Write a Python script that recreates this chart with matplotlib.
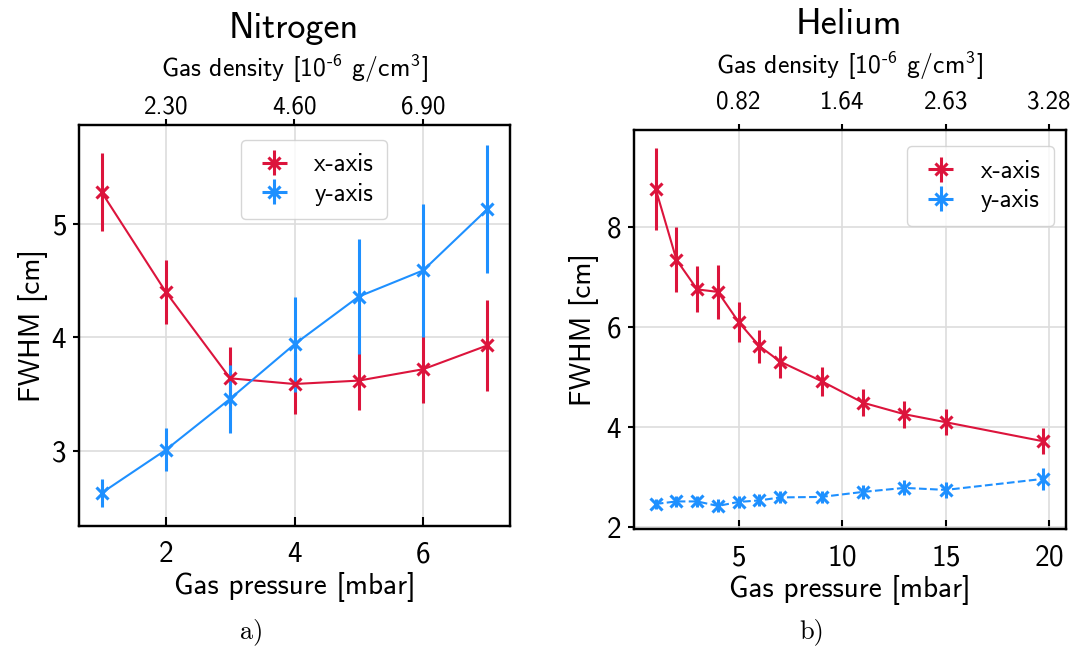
import matplotlib
matplotlib.use('Agg')
import matplotlib.pyplot as plt

plt.rcParams['font.family'] = 'cmss10'
plt.rcParams['mathtext.fontset'] = 'custom'
plt.rcParams['mathtext.rm'] = 'cmss10'
plt.rcParams['mathtext.default'] = 'regular'
plt.rcParams['axes.formatter.use_mathtext'] = True
plt.rcParams['axes.unicode_minus'] = False

# nitrogen: pressure [mbar], FWHM [cm] along x and y
n2_p = [1, 2, 3, 4, 5, 6, 7]
n2_x = [5.28, 4.40, 3.64, 3.59, 3.62, 3.72, 3.93]
n2_x_err = [0.34, 0.28, 0.28, 0.26, 0.26, 0.30, 0.40]
n2_y = [2.63, 3.01, 3.46, 3.94, 4.36, 4.59, 5.13]
n2_y_err = [0.125, 0.19, 0.30, 0.42, 0.505, 0.585, 0.565]
n2_dens_ticks = [2, 4, 6]
n2_dens_labels = ['2.30', '4.60', '6.90']

# helium
he_p = [1, 2, 3, 4, 5, 6, 7, 9, 11, 13, 15, 19.7]
he_x = [8.75, 7.34, 6.75, 6.70, 6.10, 5.62, 5.31, 4.92, 4.49, 4.26, 4.10, 3.72]
he_x_err = [0.82, 0.645, 0.46, 0.54, 0.40, 0.33, 0.32, 0.29, 0.27, 0.27, 0.26, 0.26]
he_y = [2.47, 2.52, 2.52, 2.43, 2.51, 2.54, 2.60, 2.61, 2.71, 2.79, 2.75, 2.97]
he_y_err = [0.10, 0.11, 0.11, 0.13, 0.12, 0.12, 0.12, 0.12, 0.14, 0.15, 0.16, 0.22]
he_dens_ticks = [5, 10, 15, 20]
he_dens_labels = ['0.82', '1.64', '2.63', '3.28']

red = '#dc143c'
blue = '#1e90ff'
W, H = 1076, 648


def panel(rect, p, xw, xe, yw, ye, yls, dticks, dlabels, xlim, ylim, yticks, xticks,
          ylpad, toppad, toplpad):
    ax = fig.add_axes(rect)
    ax.plot(p, xw, '-', color=red, lw=1.5)
    ax.errorbar(p, xw, yerr=xe, xerr=0, fmt='x', color=red, ms=9, mew=2.2,
                elinewidth=2.2, capsize=0, label='x-axis')
    ax.plot(p, yw, yls, color=blue, lw=1.5)
    ax.errorbar(p, yw, yerr=ye, xerr=0, fmt='x', color=blue, ms=9, mew=2.2,
                elinewidth=2.2, capsize=0, label='y-axis')
    ax.set_xlim(xlim)
    ax.set_ylim(ylim)
    ax.set_xticks(xticks)
    ax.set_yticks(yticks)
    ax.grid(True, color='#dddddd', lw=1.2)
    ax.set_axisbelow(True)
    ax.set_xlabel('Gas pressure [mbar]', fontsize=21, labelpad=3)
    ax.set_ylabel('FWHM [cm]', fontsize=21, labelpad=ylpad)
    ax.tick_params(axis='x', direction='in', length=6.5, width=1.5, labelsize=21, pad=11)
    ax.tick_params(axis='y', direction='out', length=4, width=1.5, labelsize=21, pad=5)
    for s in ax.spines.values():
        s.set_linewidth(1.6)

    top = ax.twiny()
    top.set_xlim(xlim)
    top.set_xticks(dticks)
    top.set_xticklabels(dlabels)
    top.tick_params(axis='x', direction='out', length=4, width=1.5, labelsize=18, pad=toppad)
    top.set_xlabel(r'Gas density [10$^{\text{-6}}$ g/cm$^{3}$]', fontsize=18.5, labelpad=toplpad)
    for s in top.spines.values():
        s.set_linewidth(1.6)
    ax.legend(fontsize=18, labelspacing=0.25, handlelength=1.6, handletextpad=0.8,
              borderpad=0.55)
    return ax


fig = plt.figure(figsize=(W / 100, H / 100), dpi=100)

ax1 = panel([79 / W, 1 - 526 / H, 431 / W, 401 / H],
            n2_p, n2_x, n2_x_err, n2_y, n2_y_err, '-',
            n2_dens_ticks, n2_dens_labels, (0.65, 7.35), (2.34, 5.87),
            [3, 4, 5], [2, 4, 6], 2, 1, 13)
ax1.get_legend().set_loc('upper center')
ax1.get_legend().set_bbox_to_anchor((0.545, 0.995), transform=ax1.transAxes)

ax2 = panel([634 / W, 1 - 529 / H, 432 / W, 399 / H],
            he_p, he_x, he_x_err, he_y, he_y_err, '--',
            he_dens_ticks, he_dens_labels, (-0.05, 20.8), (1.97, 9.93),
            [2, 4, 6, 8], [5, 10, 15, 20], 5, 8, 12)
ax2.get_legend().set_loc('upper right')
ax2.get_legend().set_bbox_to_anchor((1.0, 0.99), transform=ax2.transAxes)

fig.text(294 / W, 1 - 38 / H, 'Nitrogen', fontsize=26, ha='center', va='baseline')
fig.text(849 / W, 1 - 34 / H, 'Helium', fontsize=26, ha='center', va='baseline')
fig.text(252 / W, 1 - 632 / H, 'a)', family='cmr10', fontsize=19, ha='center', va='center')
fig.text(812 / W, 1 - 632 / H, 'b)', family='cmr10', fontsize=19, ha='center', va='center')

fig.savefig('out.png', dpi=100)
